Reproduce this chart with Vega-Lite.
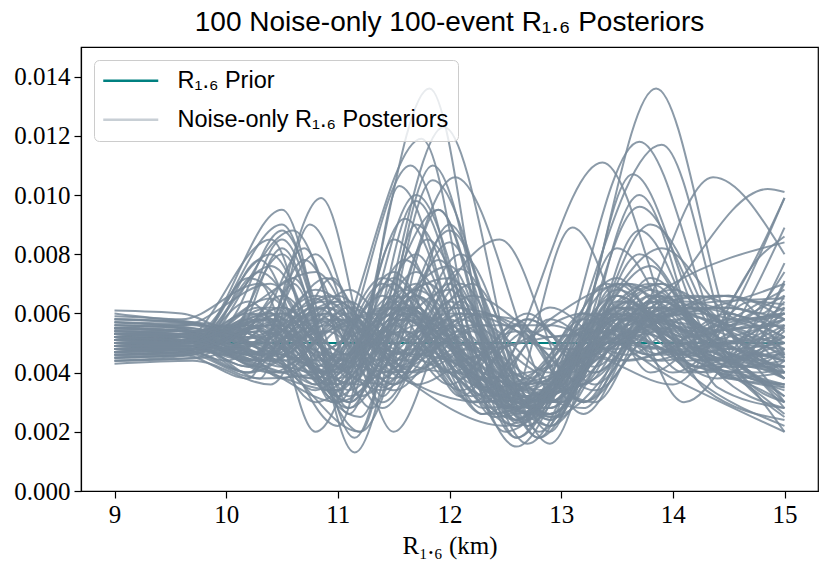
{
  "$schema": "https://vega.github.io/schema/vega-lite/v6.json",
  "description": "100 noise-only posteriors of R1.6 against a flat prior.",
  "width": 737,
  "height": 444,
  "autosize": {"type": "none"},
  "padding": {"left": 81, "top": 47, "right": 12, "bottom": 82},
  "title": {
    "text": "100 Noise-only 100-event R₁.₆ Posteriors",
    "font": "Liberation Sans",
    "fontSize": 28,
    "fontWeight": "normal",
    "color": "black",
    "offset": 10
  },
  "datasets": {
    "prior": [{"x": 9, "y": 0.005}, {"x": 15, "y": 0.005}],
    "post": [
      {"c": 1, "x": [9,9.7,10.3,11.0,11.82,12.5,13.2,13.8,14.5,15], "y": [0.0051,0.0050,0.0041,0.0034,0.0136,0.0025,0.0055,0.0046,0.0060,0.0045]},
      {"c": 2, "x": [9,9.6,10.2,10.8,11.75,12.4,13.4,14.0,14.6,15], "y": [0.0053,0.0052,0.0044,0.0038,0.0119,0.0026,0.0052,0.0068,0.0050,0.0040]},
      {"c": 3, "x": [9,9.7,10.4,11.1,11.95,12.8,13.5,14.3,15], "y": [0.0048,0.0050,0.0060,0.0028,0.0123,0.0020,0.0058,0.0044,0.0055]},
      {"c": 4, "x": [9,9.6,10.5,11.2,12.05,13.0,13.6,14.4,15], "y": [0.0055,0.0054,0.0046,0.0036,0.0106,0.0030,0.0070,0.0052,0.0038]},
      {"c": 5, "x": [9,9.7,10.3,10.9,11.65,12.4,13.0,13.85,14.6,15], "y": [0.0050,0.0049,0.0062,0.0040,0.0110,0.0030,0.0038,0.0136,0.0048,0.0040]},
      {"c": 6, "x": [9,9.6,10.2,10.85,11.4,12.0,12.7,13.7,14.5,15], "y": [0.0047,0.0048,0.0040,0.0099,0.0032,0.0090,0.0022,0.0118,0.0046,0.0035]},
      {"c": 7, "x": [9,9.7,10.5,11.15,11.8,12.6,13.9,14.6,15], "y": [0.0052,0.0051,0.0095,0.0013,0.0085,0.0018,0.0117,0.0040,0.0030]},
      {"c": 8, "x": [9,9.6,10.0,10.6,11.1,11.55,12.3,13.37,14.2,15], "y": [0.0056,0.0055,0.0048,0.0072,0.0030,0.0103,0.0035,0.0111,0.0042,0.0050]},
      {"c": 9, "x": [9,9.7,10.3,10.75,11.4,12.1,12.9,13.64,14.4,15], "y": [0.0049,0.0050,0.0038,0.0090,0.0035,0.0080,0.0020,0.0107,0.0050,0.0060]},
      {"c": 10, "x": [9,9.6,10.2,10.9,11.5,12.2,12.9,13.6,14.36,15], "y": [0.0054,0.0053,0.0046,0.0060,0.0040,0.0070,0.0025,0.0050,0.0106,0.0080]},
      {"c": 11, "x": [9,9.7,10.4,11.0,11.7,12.5,13.2,13.8,14.85,15], "y": [0.0050,0.0051,0.0065,0.0030,0.0100,0.0028,0.0045,0.0060,0.0102,0.0101]},
      {"c": 12, "x": [9,9.6,10.3,11.1,11.9,12.6,13.4,14.2,15], "y": [0.0046,0.0047,0.0038,0.0042,0.0095,0.0023,0.0060,0.0055,0.0099]},
      {"c": 13, "x": [9,9.7,10.5,11.2,11.85,12.7,13.5,14.1,15], "y": [0.0058,0.0057,0.0048,0.0025,0.0105,0.0030,0.0062,0.0040,0.0089]},
      {"c": 14, "x": [9,9.6,10.4,10.95,11.6,12.4,13.3,14.0,15], "y": [0.0052,0.0051,0.0085,0.0030,0.0092,0.0025,0.0050,0.0070,0.0084]},
      {"c": 15, "x": [9,9.7,10.2,10.7,11.3,12.0,12.8,13.5,14.3,15], "y": [0.0050,0.0049,0.0042,0.0078,0.0038,0.0088,0.0018,0.0055,0.0040,0.0077]},
      {"c": 16, "x": [9,9.6,10.3,11.0,11.5,12.2,13.0,13.7,14.5,15], "y": [0.0045,0.0046,0.0055,0.0022,0.0085,0.0040,0.0030,0.0080,0.0045,0.0071]},
      {"c": 17, "x": [9,9.7,10.5,11.2,11.7,12.5,13.3,14.0,14.7,15], "y": [0.0053,0.0052,0.0042,0.0020,0.0090,0.0020,0.0048,0.0055,0.0035,0.0020]},
      {"c": 18, "x": [9,9.6,10.4,11.0,11.6,12.3,13.1,13.8,14.6,15], "y": [0.0057,0.0056,0.0070,0.0040,0.0078,0.0035,0.0042,0.0090,0.0038,0.0025]},
      {"c": 19, "x": [9,9.7,10.6,11.3,11.9,12.6,13.4,14.2,15], "y": [0.0049,0.0048,0.0088,0.0028,0.0095,0.0018,0.0070,0.0038,0.0022]},
      {"c": 20, "x": [9,9.6,10.2,10.8,11.4,12.1,12.9,13.7,14.4,15], "y": [0.0051,0.0052,0.0040,0.0065,0.0028,0.0075,0.0016,0.0100,0.0035,0.0028]},
      {"c": 21, "x": [9,9.7,10.2,10.8,11.4,12.0,12.6,13.2,13.8,14.4,15], "y": [0.0050,0.0050,0.0058,0.0042,0.0066,0.0040,0.0054,0.0036,0.0064,0.0044,0.0052]},
      {"c": 22, "x": [9,9.7,10.2,10.8,11.4,12.0,12.6,13.2,13.8,14.4,15], "y": [0.0048,0.0049,0.0042,0.0060,0.0038,0.0070,0.0028,0.0040,0.0066,0.0050,0.0045]},
      {"c": 23, "x": [9,9.7,10.2,10.8,11.4,12.0,12.6,13.2,13.8,14.4,15], "y": [0.0053,0.0052,0.0060,0.0046,0.0036,0.0062,0.0056,0.0030,0.0058,0.0062,0.0058]},
      {"c": 24, "x": [9,9.7,10.2,10.8,11.4,12.0,12.6,13.2,13.8,14.4,15], "y": [0.0055,0.0054,0.0046,0.0068,0.0050,0.0040,0.0024,0.0052,0.0070,0.0046,0.0040]},
      {"c": 25, "x": [9,9.7,10.2,10.8,11.4,12.0,12.6,13.2,13.8,14.4,15], "y": [0.0047,0.0048,0.0052,0.0036,0.0070,0.0044,0.0050,0.0060,0.0048,0.0056,0.0060]},
      {"c": 26, "x": [9,9.7,10.2,10.8,11.4,12.0,12.6,13.2,13.8,14.4,15], "y": [0.0052,0.0053,0.0044,0.0080,0.0030,0.0064,0.0038,0.0028,0.0062,0.0040,0.0035]},
      {"c": 27, "x": [9,9.7,10.2,10.8,11.4,12.0,12.6,13.2,13.8,14.4,15], "y": [0.0044,0.0046,0.0056,0.0040,0.0058,0.0076,0.0026,0.0044,0.0056,0.0066,0.0061]},
      {"c": 28, "x": [9,9.7,10.2,10.8,11.4,12.0,12.6,13.2,13.8,14.4,15], "y": [0.0059,0.0057,0.0050,0.0038,0.0062,0.0048,0.0022,0.0056,0.0060,0.0042,0.0054]},
      {"c": 29, "x": [9,9.7,10.2,10.8,11.4,12.0,12.6,13.2,13.8,14.4,15], "y": [0.0050,0.0049,0.0062,0.0074,0.0040,0.0058,0.0032,0.0036,0.0072,0.0048,0.0032]},
      {"c": 30, "x": [9,9.7,10.2,10.8,11.4,12.0,12.6,13.2,13.8,14.4,15], "y": [0.0046,0.0047,0.0040,0.0052,0.0060,0.0036,0.0056,0.0030,0.0066,0.0058,0.0045]},
      {"c": 31, "x": [9,9.7,10.2,10.8,11.4,12.0,12.6,13.2,13.8,14.4,15], "y": [0.0053,0.0052,0.0056,0.0030,0.0050,0.0068,0.0024,0.0054,0.0050,0.0038,0.0066]},
      {"c": 32, "x": [9,9.7,10.2,10.8,11.4,12.0,12.6,13.2,13.8,14.4,15], "y": [0.0051,0.0051,0.0046,0.0062,0.0044,0.0084,0.0036,0.0042,0.0068,0.0052,0.0048]},
      {"c": 33, "x": [9,9.7,10.2,10.8,11.4,12.0,12.6,13.2,13.8,14.4,15], "y": [0.0048,0.0049,0.0072,0.0050,0.0034,0.0056,0.0028,0.0060,0.0044,0.0050,0.0030]},
      {"c": 34, "x": [9,9.7,10.2,10.8,11.4,12.0,12.6,13.2,13.8,14.4,15], "y": [0.0055,0.0056,0.0048,0.0040,0.0072,0.0046,0.0030,0.0038,0.0062,0.0056,0.0038]},
      {"c": 35, "x": [9,9.7,10.2,10.8,11.4,12.0,12.6,13.2,13.8,14.4,15], "y": [0.0050,0.0050,0.0064,0.0036,0.0054,0.0040,0.0022,0.0050,0.0076,0.0042,0.0042]},
      {"c": 36, "x": [9,9.7,10.2,10.8,11.4,12.0,12.6,13.2,13.8,14.4,15], "y": [0.0047,0.0048,0.0044,0.0058,0.0042,0.0060,0.0058,0.0026,0.0058,0.0048,0.0038]},
      {"c": 37, "x": [9,9.7,10.2,10.8,11.4,12.0,12.6,13.2,13.8,14.4,15], "y": [0.0057,0.0055,0.0050,0.0066,0.0048,0.0044,0.0028,0.0048,0.0060,0.0064,0.0065]},
      {"c": 38, "x": [9,9.7,10.2,10.8,11.4,12.0,12.6,13.2,13.8,14.4,15], "y": [0.0045,0.0046,0.0054,0.0034,0.0060,0.0072,0.0034,0.0058,0.0046,0.0054,0.0056]},
      {"c": 39, "x": [9,9.6,10.0,10.5,11.1,11.7,12.3,12.9,13.5,14.1,14.7,15], "y": [0.0052,0.0051,0.0048,0.0066,0.0040,0.0062,0.0034,0.0030,0.0062,0.0050,0.0042,0.0048]},
      {"c": 40, "x": [9,9.6,10.0,10.5,11.1,11.7,12.3,12.9,13.5,14.1,14.7,15], "y": [0.0049,0.0050,0.0054,0.0044,0.0058,0.0036,0.0046,0.0026,0.0056,0.0066,0.0048,0.0044]},
      {"c": 41, "x": [9,9.6,10.0,10.5,11.1,11.7,12.3,12.9,13.5,14.1,14.7,15], "y": [0.0054,0.0053,0.0050,0.0085,0.0034,0.0056,0.0040,0.0032,0.0070,0.0044,0.0038,0.0036]},
      {"c": 42, "x": [9,9.6,10.0,10.5,11.1,11.7,12.3,12.9,13.5,14.1,14.7,15], "y": [0.0051,0.0050,0.0046,0.0040,0.0062,0.0050,0.0060,0.0048,0.0048,0.0064,0.0058,0.0055]},
      {"c": 43, "x": [9,9.6,10.0,10.5,11.1,11.7,12.3,12.9,13.5,14.1,14.7,15], "y": [0.0046,0.0047,0.0052,0.0062,0.0046,0.0070,0.0030,0.0042,0.0066,0.0050,0.0054,0.0058]},
      {"c": 44, "x": [9,9.6,10.0,10.5,11.1,11.7,12.3,12.9,13.5,14.1,14.7,15], "y": [0.0058,0.0057,0.0054,0.0046,0.0068,0.0042,0.0038,0.0022,0.0062,0.0056,0.0044,0.0047]},
      {"c": 45, "x": [9,9.6,10.0,10.5,11.1,11.7,12.3,12.9,13.5,14.1,14.7,15], "y": [0.0050,0.0051,0.0056,0.0088,0.0038,0.0060,0.0048,0.0052,0.0054,0.0046,0.0064,0.0063]},
      {"c": 46, "x": [9,9.6,10.0,10.5,11.1,11.7,12.3,12.9,13.5,14.1,14.7,15], "y": [0.0047,0.0048,0.0044,0.0056,0.0030,0.0066,0.0034,0.0044,0.0070,0.0058,0.0040,0.0030]},
      {"c": 47, "x": [9,9.6,10.0,10.5,11.1,11.7,12.3,12.9,13.5,14.1,14.7,15], "y": [0.0053,0.0052,0.0050,0.0042,0.0060,0.0046,0.0056,0.0040,0.0052,0.0062,0.0052,0.0050]},
      {"c": 48, "x": [9,9.6,10.0,10.5,11.1,11.7,12.3,12.9,13.5,14.1,14.7,15], "y": [0.0049,0.0050,0.0052,0.0080,0.0032,0.0058,0.0028,0.0034,0.0068,0.0050,0.0038,0.0034]},
      {"c": 49, "x": [9,9.6,10.0,10.5,11.1,11.7,12.3,12.9,13.5,14.1,14.7,15], "y": [0.0055,0.0054,0.0048,0.0058,0.0044,0.0074,0.0036,0.0028,0.0060,0.0046,0.0056,0.0052]},
      {"c": 50, "x": [9,9.6,10.0,10.5,11.1,11.7,12.3,12.9,13.5,14.1,14.7,15], "y": [0.0051,0.0052,0.0054,0.0038,0.0056,0.0040,0.0050,0.0024,0.0064,0.0054,0.0044,0.0042]},
      {"c": 51, "x": [9,9.6,10.0,10.5,11.1,11.7,12.3,12.9,13.5,14.1,14.7,15], "y": [0.0048,0.0048,0.0050,0.0060,0.0046,0.0080,0.0032,0.0038,0.0058,0.0060,0.0066,0.0070]},
      {"c": 52, "x": [9,9.6,10.0,10.5,11.1,11.7,12.3,12.9,13.5,14.1,14.7,15], "y": [0.0052,0.0051,0.0046,0.0082,0.0028,0.0054,0.0042,0.0026,0.0050,0.0058,0.0038,0.0036]},
      {"c": 53, "x": [9,9.6,10.0,10.5,11.1,11.7,12.3,12.9,13.5,14.1,14.7,15], "y": [0.0045,0.0046,0.0050,0.0040,0.0052,0.0062,0.0026,0.0046,0.0072,0.0044,0.0046,0.0044]},
      {"c": 54, "x": [9,9.6,10.0,10.5,11.1,11.7,12.3,12.9,13.5,14.1,14.7,15], "y": [0.0056,0.0055,0.0052,0.0062,0.0042,0.0048,0.0038,0.0030,0.0058,0.0050,0.0040,0.0028]},
      {"c": 55, "x": [9,9.6,10.0,10.5,11.1,11.7,12.3,12.9,13.5,14.1,14.7,15], "y": [0.0050,0.0049,0.0046,0.0054,0.0036,0.0068,0.0044,0.0032,0.0066,0.0052,0.0058,0.0060]},
      {"c": 56, "x": [9,9.6,10.0,10.5,11.1,11.7,12.3,12.9,13.5,14.1,14.7,15], "y": [0.0053,0.0053,0.0056,0.0048,0.0064,0.0036,0.0030,0.0058,0.0044,0.0048,0.0050,0.0040]},
      {"c": 57, "x": [9,9.8,10.3,10.9,11.5,12.1,12.7,13.3,13.9,14.5,15], "y": [0.0047,0.0048,0.0056,0.0040,0.0064,0.0048,0.0026,0.0058,0.0046,0.0050,0.0052]},
      {"c": 58, "x": [9,9.8,10.3,10.9,11.5,12.1,12.7,13.3,13.9,14.5,15], "y": [0.0051,0.0050,0.0044,0.0060,0.0036,0.0058,0.0042,0.0030,0.0064,0.0048,0.0050]},
      {"c": 59, "x": [9,9.8,10.3,10.9,11.5,12.1,12.7,13.3,13.9,14.5,15], "y": [0.0054,0.0054,0.0074,0.0048,0.0070,0.0032,0.0058,0.0040,0.0064,0.0066,0.0046]},
      {"c": 60, "x": [9,9.8,10.3,10.9,11.5,12.1,12.7,13.3,13.9,14.5,15], "y": [0.0049,0.0049,0.0042,0.0056,0.0046,0.0066,0.0028,0.0044,0.0058,0.0040,0.0056]},
      {"c": 61, "x": [9,9.8,10.3,10.9,11.5,12.1,12.7,13.3,13.9,14.5,15], "y": [0.0052,0.0051,0.0058,0.0036,0.0058,0.0050,0.0034,0.0054,0.0070,0.0056,0.0062]},
      {"c": 62, "x": [9,9.8,10.3,10.9,11.5,12.1,12.7,13.3,13.9,14.5,15], "y": [0.0046,0.0047,0.0050,0.0062,0.0038,0.0060,0.0022,0.0050,0.0048,0.0044,0.0032]},
      {"c": 63, "x": [9,9.8,10.3,10.9,11.5,12.1,12.7,13.3,13.9,14.5,15], "y": [0.0057,0.0056,0.0048,0.0044,0.0074,0.0040,0.0060,0.0036,0.0062,0.0054,0.0046]},
      {"c": 64, "x": [9,9.8,10.3,10.9,11.5,12.1,12.7,13.3,13.9,14.5,15], "y": [0.0050,0.0050,0.0060,0.0038,0.0056,0.0034,0.0054,0.0040,0.0062,0.0038,0.0040]},
      {"c": 65, "x": [9,9.8,10.3,10.9,11.5,12.1,12.7,13.3,13.9,14.5,15], "y": [0.0053,0.0052,0.0044,0.0066,0.0050,0.0062,0.0030,0.0048,0.0058,0.0066,0.0058]},
      {"c": 66, "x": [9,9.8,10.3,10.9,11.5,12.1,12.7,13.3,13.9,14.5,15], "y": [0.0048,0.0049,0.0054,0.0046,0.0040,0.0056,0.0038,0.0060,0.0044,0.0048,0.0038]},
      {"c": 67, "x": [9,9.8,10.3,10.9,11.5,12.1,12.7,13.3,13.9,14.5,15], "y": [0.0055,0.0054,0.0050,0.0072,0.0042,0.0052,0.0026,0.0054,0.0064,0.0050,0.0064]},
      {"c": 68, "x": [9,9.8,10.3,10.9,11.5,12.1,12.7,13.3,13.9,14.5,15], "y": [0.0051,0.0051,0.0078,0.0034,0.0060,0.0042,0.0032,0.0038,0.0060,0.0056,0.0048]},
      {"c": 69, "x": [9,9.8,10.3,10.9,11.5,12.1,12.7,13.3,13.9,14.5,15], "y": [0.0049,0.0049,0.0046,0.0054,0.0036,0.0070,0.0036,0.0046,0.0054,0.0044,0.0048]},
      {"c": 70, "x": [9,9.8,10.3,10.9,11.5,12.1,12.7,13.3,13.9,14.5,15], "y": [0.0044,0.0045,0.0052,0.0040,0.0062,0.0046,0.0024,0.0056,0.0070,0.0038,0.0036]},
      {"c": 71, "x": [9,9.8,10.3,10.9,11.5,12.1,12.7,13.3,13.9,14.5,15], "y": [0.0052,0.0052,0.0056,0.0064,0.0044,0.0060,0.0052,0.0034,0.0058,0.0062,0.0054]},
      {"c": 72, "x": [9,9.8,10.3,10.9,11.5,12.1,12.7,13.3,13.9,14.5,15], "y": [0.0058,0.0056,0.0046,0.0058,0.0034,0.0054,0.0030,0.0052,0.0048,0.0044,0.0062]},
      {"c": 73, "x": [9,9.8,10.3,10.9,11.5,12.1,12.7,13.3,13.9,14.5,15], "y": [0.0050,0.0050,0.0054,0.0042,0.0066,0.0038,0.0058,0.0042,0.0066,0.0042,0.0044]},
      {"c": 74, "x": [9,9.7,10.4,11.0,11.6,12.2,12.9,13.6,14.2,14.8,15], "y": [0.0047,0.0048,0.0056,0.0042,0.0058,0.0036,0.0030,0.0060,0.0052,0.0062,0.0066]},
      {"c": 75, "x": [9,9.7,10.4,11.0,11.6,12.2,12.9,13.6,14.2,14.8,15], "y": [0.0054,0.0053,0.0080,0.0038,0.0060,0.0042,0.0026,0.0058,0.0044,0.0034,0.0030]},
      {"c": 76, "x": [9,9.7,10.4,11.0,11.6,12.2,12.9,13.6,14.2,14.8,15], "y": [0.0050,0.0051,0.0046,0.0060,0.0042,0.0056,0.0056,0.0046,0.0060,0.0054,0.0050]},
      {"c": 77, "x": [9,9.7,10.4,11.0,11.6,12.2,12.9,13.6,14.2,14.8,15], "y": [0.0052,0.0051,0.0058,0.0036,0.0062,0.0030,0.0034,0.0052,0.0062,0.0044,0.0042]},
      {"c": 78, "x": [9,9.7,10.4,11.0,11.6,12.2,12.9,13.6,14.2,14.8,15], "y": [0.0046,0.0047,0.0052,0.0064,0.0040,0.0048,0.0024,0.0062,0.0040,0.0046,0.0046]},
      {"c": 79, "x": [9,9.7,10.4,11.0,11.6,12.2,12.9,13.6,14.2,14.8,15], "y": [0.0055,0.0054,0.0044,0.0058,0.0046,0.0066,0.0052,0.0056,0.0066,0.0060,0.0070]},
      {"c": 80, "x": [9,9.7,10.4,11.0,11.6,12.2,12.9,13.6,14.2,14.8,15], "y": [0.0049,0.0050,0.0076,0.0044,0.0054,0.0032,0.0058,0.0070,0.0046,0.0042,0.0038]},
      {"c": 81, "x": [9,9.7,10.4,11.0,11.6,12.2,12.9,13.6,14.2,14.8,15], "y": [0.0051,0.0051,0.0040,0.0056,0.0062,0.0040,0.0028,0.0060,0.0054,0.0056,0.0058]},
      {"c": 82, "x": [9,9.7,10.4,11.0,11.6,12.2,12.9,13.6,14.2,14.8,15], "y": [0.0053,0.0052,0.0056,0.0034,0.0060,0.0048,0.0036,0.0064,0.0042,0.0040,0.0044]},
      {"c": 83, "x": [9,9.7,10.4,11.0,11.6,12.2,12.9,13.6,14.2,14.8,15], "y": [0.0048,0.0049,0.0054,0.0066,0.0044,0.0060,0.0030,0.0058,0.0056,0.0050,0.0052]},
      {"c": 84, "x": [9,9.7,10.4,11.0,11.6,12.2,12.9,13.6,14.2,14.8,15], "y": [0.0056,0.0055,0.0048,0.0040,0.0058,0.0034,0.0026,0.0064,0.0044,0.0038,0.0036]},
      {"c": 85, "x": [9,9.7,10.4,11.0,11.6,12.2,12.9,13.6,14.2,14.8,15], "y": [0.0050,0.0050,0.0060,0.0042,0.0066,0.0038,0.0042,0.0056,0.0062,0.0058,0.0060]},
      {"c": 86, "x": [9,9.7,10.4,11.0,11.6,12.2,12.9,13.6,14.2,14.8,15], "y": [0.0047,0.0048,0.0050,0.0058,0.0038,0.0054,0.0022,0.0054,0.0048,0.0044,0.0042]},
      {"c": 87, "x": [9,9.7,10.4,11.0,11.6,12.2,12.9,13.6,14.2,14.8,15], "y": [0.0053,0.0053,0.0044,0.0064,0.0040,0.0050,0.0036,0.0064,0.0042,0.0052,0.0056]},
      {"c": 88, "x": [9,9.7,10.4,11.0,11.6,12.2,12.9,13.6,14.2,14.8,15], "y": [0.0051,0.0050,0.0062,0.0046,0.0054,0.0030,0.0062,0.0044,0.0050,0.0046,0.0044]},
      {"c": 89, "x": [9,9.7,10.4,11.0,11.6,12.2,12.9,13.6,14.2,14.8,15], "y": [0.0049,0.0049,0.0046,0.0036,0.0062,0.0044,0.0030,0.0058,0.0046,0.0032,0.0026]},
      {"c": 90, "x": [9,9.7,10.4,11.0,11.6,12.2,12.9,13.6,14.2,14.8,15], "y": [0.0054,0.0054,0.0058,0.0044,0.0068,0.0042,0.0034,0.0062,0.0054,0.0064,0.0068]},
      {"c": 91, "x": [9,9.7,10.3,11.0,11.6,12.45,13.2,13.9,14.6,15], "y": [0.0050,0.0050,0.0042,0.0030,0.0050,0.0085,0.0030,0.0055,0.0045,0.0040]},
      {"c": 92, "x": [9,9.6,10.4,11.0,11.7,12.5,13.1,13.8,14.5,15], "y": [0.0052,0.0051,0.0058,0.0032,0.0066,0.0028,0.0089,0.0040,0.0058,0.0052]},
      {"c": 93, "x": [9,9.7,10.4,11.1,11.8,12.6,13.4,14.0,15], "y": [0.0048,0.0048,0.0056,0.0030,0.0070,0.0024,0.0060,0.0040,0.0099]},
      {"c": 94, "x": [9,9.6,10.3,10.9,11.6,12.5,13.2,14.0,14.8,15], "y": [0.0055,0.0054,0.0044,0.0062,0.0038,0.0022,0.0046,0.0036,0.0080,0.0086]},
      {"c": 95, "x": [9,9.7,10.5,11.2,11.9,12.7,13.5,14.1,14.8,15], "y": [0.0044,0.0045,0.0060,0.0020,0.0078,0.0016,0.0066,0.0030,0.0058,0.0060]},
      {"c": 96, "x": [9,9.6,10.2,10.7,11.2,11.9,12.6,13.3,14.0,15], "y": [0.0061,0.0060,0.0052,0.0082,0.0032,0.0058,0.0015,0.0052,0.0038,0.0020]},
      {"c": 97, "x": [9,9.7,10.4,10.95,11.5,12.1,12.8,13.5,14.3,15], "y": [0.0043,0.0044,0.0036,0.0072,0.0020,0.0064,0.0018,0.0082,0.0034,0.0024]},
      {"c": 98, "x": [9,9.6,10.3,10.8,11.5,12.3,13.0,13.7,14.5,15], "y": [0.0060,0.0058,0.0070,0.0020,0.0072,0.0026,0.0036,0.0096,0.0050,0.0058]},
      {"c": 99, "x": [9,9.7,10.5,11.15,11.85,12.6,13.3,13.9,14.6,15], "y": [0.0052,0.0051,0.0090,0.0018,0.0110,0.0024,0.0058,0.0082,0.0058,0.0074]},
      {"c": 100, "x": [9,9.6,10.2,10.6,11.1,11.7,12.4,13.0,13.7,14.4,15], "y": [0.0045,0.0046,0.0038,0.0070,0.0026,0.0098,0.0030,0.0025,0.0088,0.0040,0.0028]}
    ]
  },
  "layer": [
    {
      "data": {"name": "prior"},
      "mark": {"type": "line", "strokeWidth": 2},
      "encoding": {
        "x": {"field": "x", "type": "quantitative"},
        "y": {"field": "y", "type": "quantitative"},
        "color": {"datum": "R₁.₆ Prior", "type": "nominal"}
      }
    },
    {
      "data": {"name": "post"},
      "transform": [{"flatten": ["x", "y"]}],
      "mark": {"type": "line", "strokeWidth": 2, "interpolate": "monotone", "opacity": 0.85},
      "encoding": {
        "x": {"field": "x", "type": "quantitative"},
        "y": {"field": "y", "type": "quantitative"},
        "detail": {"field": "c", "type": "nominal"},
        "color": {"datum": "Noise-only R₁.₆ Posteriors", "type": "nominal"}
      }
    }
  ],
  "resolve": {"scale": {"x": "shared", "y": "shared", "color": "shared"}},
  "encoding": {
    "x": {
      "field": "x",
      "type": "quantitative",
      "scale": {"domain": [8.7, 15.3], "nice": false, "zero": false},
      "axis": {"values": [9, 10, 11, 12, 13, 14, 15], "format": "d", "title": "R₁.₆ (km)", "titlePadding": 6}
    },
    "y": {
      "field": "y",
      "type": "quantitative",
      "scale": {"domain": [0, 0.015], "nice": false},
      "axis": {"values": [0, 0.002, 0.004, 0.006, 0.008, 0.01, 0.012, 0.014], "format": ".3f", "title": null}
    },
    "color": {
      "type": "nominal",
      "scale": {"domain": ["R₁.₆ Prior", "Noise-only R₁.₆ Posteriors"], "range": ["#008080", "#778899"]},
      "legend": {
        "title": null,
        "orient": "none",
        "legendX": 13,
        "legendY": 13,
        "symbolType": "M-2.75,0H2.75",
        "symbolSize": 400,
        "symbolStrokeWidth": 2.5,
        "symbolOffset": 16,
        "labelOffset": 35,
        "labelLimit": 500,
        "labelFont": "Liberation Sans",
        "labelFontSize": 23.5,
        "labelColor": "black",
        "rowPadding": 14,
        "padding": 9,
        "fillColor": "rgba(255,255,255,0.8)",
        "strokeColor": "#cccccc",
        "cornerRadius": 5,
        "encode": {
          "symbols": {"update": {"opacity": {"signal": "datum.index === 0 ? 1 : 0.4"}}}
        }
      }
    }
  },
  "config": {
    "view": {"stroke": "black", "strokeWidth": 1.2},
    "axis": {
      "grid": false,
      "domainColor": "black",
      "domainWidth": 1.2,
      "tickColor": "black",
      "tickSize": 7,
      "tickWidth": 1.2,
      "labelFont": "Liberation Serif",
      "labelFontSize": 25,
      "labelColor": "black",
      "labelPadding": 4,
      "titleFont": "Liberation Serif",
      "titleFontSize": 25,
      "titleFontWeight": "normal",
      "titleColor": "black"
    }
  }
}
